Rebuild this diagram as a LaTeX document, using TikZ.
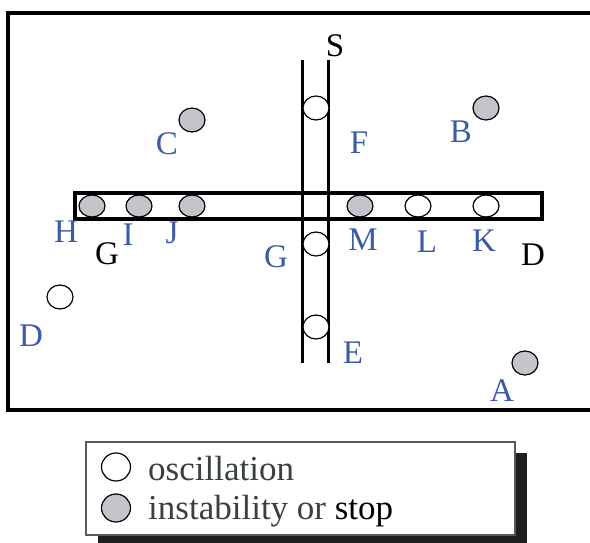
\documentclass[tikz,border=0pt]{standalone}
\usepackage{fontspec}
\setmainfont{Liberation Serif}
\usetikzlibrary{shapes.geometric}
\definecolor{lblue}{HTML}{3B5BA5}
\definecolor{dgrey}{HTML}{C3C5CA}
\definecolor{ltext}{HTML}{3A4040}
\begin{document}
\begin{tikzpicture}[x=1pt,y=-1pt,
  thick/.style={line width=3.6pt},
  pipe/.style={line width=3pt},
  osc/.style={ellipse,draw=black,line width=1.2pt,fill=white,minimum width=26pt,minimum height=24pt,inner sep=0pt},
  inst/.style={osc,fill=dgrey},
  barosc/.style={osc,minimum height=22pt},
  barinst/.style={inst,minimum height=22pt},
  lbl/.style={text=lblue,font=\fontsize{33}{36}\selectfont,inner sep=0pt},
  blbl/.style={text=black,font=\fontsize{33}{36}\selectfont,inner sep=0pt},
  legtxt/.style={text=ltext,font=\fontsize{35}{38}\selectfont,inner sep=0pt,anchor=base west}]
\useasboundingbox (0,0) rectangle (590,543);
% outer frame (open at the right)
\coordinate (f1) at (592,13);
\coordinate (f2) at (8,13);
\coordinate (f3) at (8,410);
\coordinate (f4) at (592,410);
\draw[thick] (f1) -- (f2) -- (f3) -- (f4);
% horizontal bar
\node[draw=black,line width=3.6pt,minimum width=467pt,minimum height=26pt,inner sep=0pt] (bar) at (308.5,206) {};
% vertical pipe
\coordinate (p1t) at (302,60);
\coordinate (p1b) at (302,363);
\coordinate (p2t) at (328,60);
\coordinate (p2b) at (328,363);
\draw[pipe] (p1t) -- (p1b);
\draw[pipe] (p2t) -- (p2b);
% circles
\node[barinst] (cH) at (92,206) {};
\node[barinst] (cI) at (139,206) {};
\node[barinst] (cJ) at (192,206) {};
\node[barinst] (cM) at (360,206) {};
\node[barosc] (cL) at (418,206) {};
\node[barosc] (cK) at (486,206) {};
\node[inst] (cC) at (192,120) {};
\node[inst] (cB) at (486,108) {};
\node[inst] (cA) at (525,363) {};
\node[osc] (cF) at (316,108) {};
\node[osc] (cG) at (316,244) {};
\node[osc] (cE) at (316,327) {};
\node[osc] (cD) at (60,297) {};
% labels
\node[blbl] (tS) at (335,46) {S};
\node[lbl] (tC) at (167,144) {C};
\node[lbl] (tF) at (359,143) {F};
\node[lbl] (tB) at (461,132) {B};
\node[lbl] (tH) at (66,232) {H};
\node[lbl] (tI) at (128,235) {I};
\node[lbl] (tJ) at (172,233) {J};
\node[blbl] (tG1) at (107,254) {G};
\node[lbl] (tG2) at (276,257) {G};
\node[lbl] (tM) at (363,240) {M};
\node[lbl] (tL) at (427,242) {L};
\node[lbl] (tK) at (484,241) {K};
\node[blbl] (tD1) at (533,255) {D};
\node[lbl] (tD2) at (31,336) {D};
\node[lbl] (tE) at (353,353) {E};
\node[lbl] (tA) at (502,391) {A};
% legend
\fill[black!88] (98,453) rectangle (527,545);
\node[draw=black!65,line width=1.3pt,fill=white,minimum width=429pt,minimum height=93pt,inner sep=0pt] (leg) at (300.5,488.5) {};
\node[osc,minimum width=29pt,minimum height=28pt] (lo) at (116,467) {};
\node[inst,minimum width=29pt,minimum height=28pt] (li) at (116,508) {};
\node[legtxt] (lt1) at (148,480) {oscillation};
\node[legtxt] (lt2) at (148,519) {instability or \textcolor{black}{stop}};
\end{tikzpicture}
\end{document}
